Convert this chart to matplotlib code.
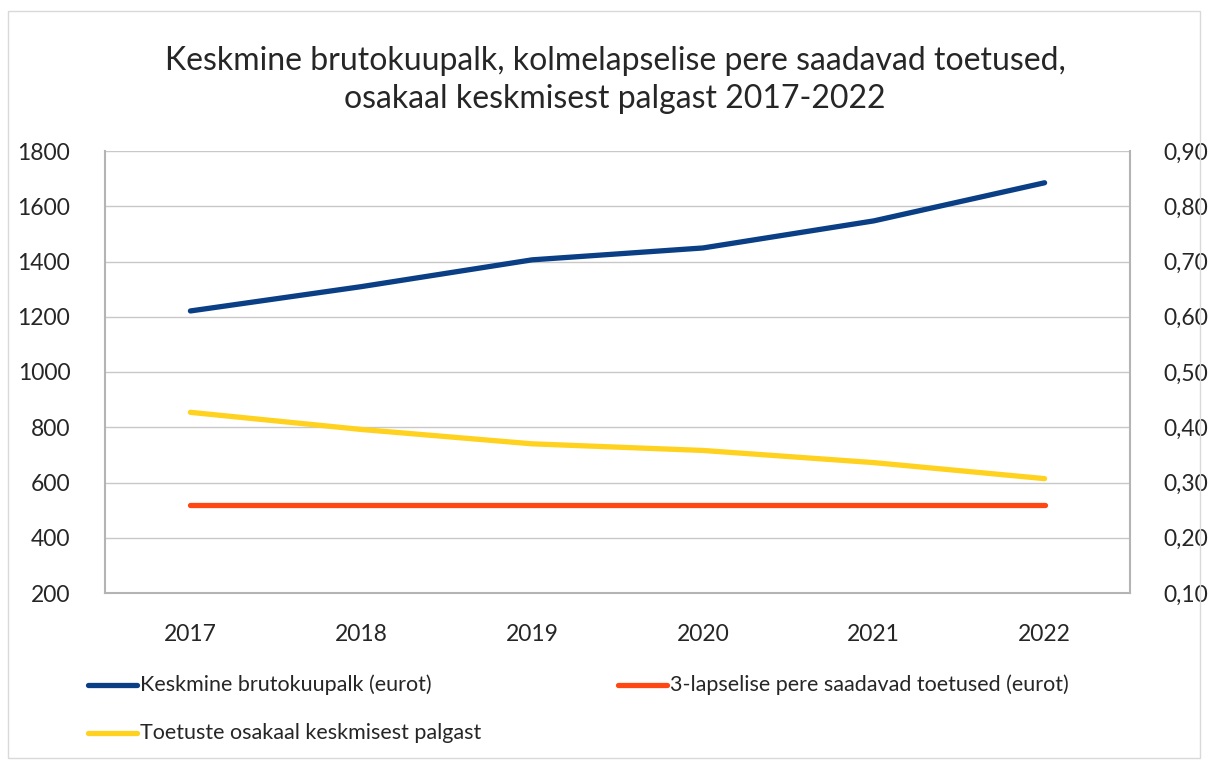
import matplotlib
matplotlib.use("Agg")
import matplotlib.pyplot as plt
from matplotlib.lines import Line2D
from matplotlib.patches import Rectangle
from matplotlib.ticker import FuncFormatter

years = ["2017", "2018", "2019", "2020", "2021", "2022"]
salary = [1221, 1309, 1406, 1449, 1547, 1685]
benefits = [520, 520, 520, 520, 520, 520]
share = [0.427, 0.396, 0.370, 0.358, 0.336, 0.307]

labels = ["Keskmine brutokuupalk (eurot)",
          "3-lapselise pere saadavad toetused (eurot)",
          "Toetuste osakaal keskmisest palgast"]
title = "Keskmine brutokuupalk, kolmelapselise pere saadavad toetused,\nosakaal keskmisest palgast 2017-2022"

C_BLUE = "#0a3f86"
C_RED = "#ff4713"
C_YEL = "#ffd21f"
FONT = ["Lato", "DejaVu Sans"]
plt.rcParams["font.family"] = FONT

W, H = 1210, 763
fig = plt.figure(figsize=(W / 100, H / 100), dpi=100)
fig.patch.set_facecolor("white")
fig.patches.append(Rectangle((8 / W, 1 - 758 / H), (1200 - 8) / W, (758 - 11) / H,
                             transform=fig.transFigure, fill=False,
                             edgecolor="#d9d9d9", linewidth=1.0))

ax = fig.add_axes([105 / W, 1 - 593 / H, (1130 - 105) / W, (593 - 151) / H])
x = list(range(len(years)))
ax.set_xlim(-0.5, len(years) - 0.5)
ax.set_ylim(200, 1800)
ax.set_yticks(range(200, 1801, 200))
ax.grid(axis="y", color="#c8c8c8", linewidth=1.0)
ax.set_axisbelow(True)
for s in ["left", "bottom", "right"]:
    ax.spines[s].set_color("#b4b4b4")
    ax.spines[s].set_linewidth(1.5)
ax.spines["top"].set_visible(False)
ax.tick_params(length=0, labelsize=16.5, colors="#262626")
ax.tick_params(axis="y", pad=25)
ax.tick_params(axis="x", pad=22)
ax.set_xticks(x)
ax.set_xticklabels(years)

l1, = ax.plot(x, salary, color=C_BLUE, linewidth=3.8, solid_capstyle="round", zorder=3)
l2, = ax.plot(x, benefits, color=C_RED, linewidth=3.8, solid_capstyle="round", zorder=3)

ax2 = ax.twinx()
ax2.set_ylim(0.10, 0.90)
ax2.set_yticks([0.1 + 0.1 * i for i in range(9)])
ax2.yaxis.set_major_formatter(FuncFormatter(lambda v, p: f"{v:.2f}".replace(".", ",")))
ax2.tick_params(length=0, labelsize=16.5, colors="#262626", pad=24)
for s in ax2.spines.values():
    s.set_visible(False)
l3, = ax2.plot(x, share, color=C_YEL, linewidth=3.8, solid_capstyle="round", zorder=3)

fig.text(615 / W, 1 - 80 / H, title, ha="center", va="center", fontsize=23,
         color="#262626", linespacing=1.3)

# legend
entries = [(l1, labels[0], 88, 685), (l2, labels[1], 618, 685), (l3, labels[2], 88, 733)]
for line, lab, lx, ly in entries:
    fig.lines.append(Line2D([lx / W, (lx + 49) / W], [1 - ly / H, 1 - ly / H],
                            transform=fig.transFigure, color=line.get_color(),
                            linewidth=3.8, solid_capstyle="round"))
    fig.text((lx + 52) / W, 1 - ly / H, lab, ha="left", va="center",
             fontsize=15.5, color="#262626")

fig.savefig("out.png", dpi=100, facecolor="white")
